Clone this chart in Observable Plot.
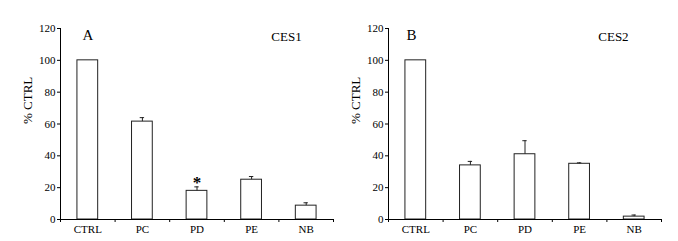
<!DOCTYPE html>
<html><head><meta charset="utf-8">
<script src="https://cdn.jsdelivr.net/npm/d3@7"></script>
<script src="https://cdn.jsdelivr.net/npm/@observablehq/plot@0.6"></script>
<style>
html,body{margin:0;padding:0;background:#fff;}
#wrap{display:flex;width:678px;height:241px;}
</style></head>
<body><div id="wrap"></div>
<script>
const categories = ["CTRL", "PC", "PD", "PE", "NB"];
const ces1Values = [100, 61.5, 18, 25, 8.7];
const ces1Errors = [0, 2.5, 2.5, 2, 1.8];
const ces2Values = [100, 34, 41, 35, 1.8];
const ces2Errors = [0, 2.5, 8.5, 0.6, 1.0];
const yTicks = [0, 20, 40, 60, 80, 100, 120];
const ces1Star = ["", "", "*", "", ""];
const ces2Star = ["", "", "", "", ""];

const font = "'Liberation Serif', 'Times New Roman', serif";

function panel({values, errors, stars, letter, title, width, marginLeft, marginRight, letterX, titleX}) {
  const data = categories.map((c, i) => ({c, i, v: values[i], e: errors[i], s: stars[i]}));
  const half = 0.19, cap = 0.04;
  return Plot.plot({
    width, height: 241,
    marginTop: 28, marginBottom: 22, marginLeft, marginRight,
    style: {fontFamily: font, fontSize: "11px", color: "#000", background: "#fff"},
    x: {domain: [0, 5]},
    y: {domain: [0, 120]},
    marks: [
      Plot.rectY(data, {x1: d => d.i + 0.5 - half, x2: d => d.i + 0.5 + half, y1: 0, y2: "v", fill: "#fff", stroke: "#222", strokeWidth: 1}),
      Plot.ruleX(data.filter(d => d.e > 0), {x: d => d.i + 0.5, y1: "v", y2: d => d.v + d.e, stroke: "#222"}),
      Plot.ruleY(data.filter(d => d.e > 0), {y: d => d.v + d.e, x1: d => d.i + 0.5 - cap, x2: d => d.i + 0.5 + cap, stroke: "#222"}),
      Plot.text(data.filter(d => d.s), {x: d => d.i + 0.5, y: d => d.v + d.e, text: "s", lineAnchor: "bottom", dy: 1, fontSize: 17, fontWeight: "bold"}),
      Plot.ruleX([0], {stroke: "#000"}),
      Plot.ruleY([0], {stroke: "#000"}),
      Plot.axisY({ticks: yTicks, tickSize: 3, tickPadding: 2, label: null, fontSize: 11}),
      Plot.text(["% CTRL"], {frameAnchor: "left", rotate: -90, dx: -33 - (marginLeft - 60) * 0 , text: d => d, fontSize: 13}),
      Plot.axisX({ticks: [0, 1, 2, 3, 4, 5], tickSize: 3, tickFormat: () => "", label: null}),
      Plot.axisX({ticks: categories.map((c, i) => i + 0.5), tickSize: 0, tickPadding: 6, tickFormat: t => categories[Math.floor(t)], label: null, fontSize: 11}),
      Plot.text([letter], {x: letterX, y: 116, text: d => d, fontSize: 15}),
      Plot.text([title], {x: titleX, y: 115, text: d => d, fontSize: 13})
    ]
  });
}

const wrap = document.getElementById("wrap");
wrap.append(panel({values: ces1Values, errors: ces1Errors, stars: ces1Star, letter: "A", title: "CES1", width: 339, marginLeft: 60, marginRight: 6, letterX: 0.5, titleX: 4.14}));
wrap.append(panel({values: ces2Values, errors: ces2Errors, stars: ces2Star, letter: "B", title: "CES2", width: 339, marginLeft: 49, marginRight: 17, letterX: 0.42, titleX: 4.12}));
</script>
</body></html>
